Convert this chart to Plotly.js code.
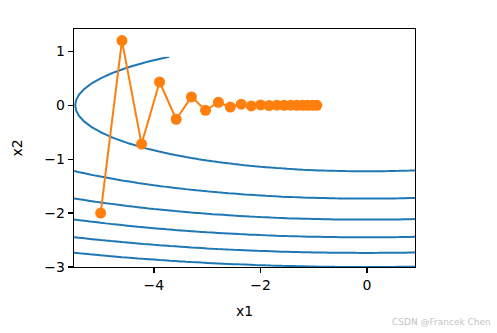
<!DOCTYPE html>
<html>
<head>
<meta charset="utf-8">
<script src="https://cdn.plot.ly/plotly-3.0.1.min.js"></script>
<style>html,body{margin:0;padding:0;background:#fff;}</style>
</head>
<body>
<div id="chart" style="width:497px;height:333px;"></div>
<script>
// Gradient descent trace (x1, x2)
const traceX1 = [-5, -4.6, -4.232, -3.8934, -3.582, -3.2954, -3.0318, -2.7892, -2.5661, -2.3608,
                 -2.1719, -1.9982, -1.8383, -1.6913, -1.556, -1.4315, -1.317, -1.2116, -1.1147, -1.0255, -0.9435];
const traceX2 = [-2, 1.2, -0.72, 0.432, -0.2592, 0.1555, -0.0933, 0.056, -0.0336, 0.0202,
                 -0.0121, 0.0073, -0.0044, 0.0026, -0.0016, 0.0009, -0.0006, 0.0003, -0.0002, 0.0001, -0.0001];
// Contour function f(x1,x2) = a*x1^2 + b*x2^2
const coefA = 0.1, coefB = 2;
const gridX1Start = -5.5, gridX1End = 0.9, gridX2Start = -3.0, gridX2End = 0.9, gridStep = 0.1;
const contourLevels = {start: 3, end: 18, size: 3};
const xTicks = [-4, -2, 0];
const yTicks = [-3, -2, -1, 0, 1];

const gx = [], gy = [];
for (let i = 0; gridX1Start + i*gridStep <= gridX1End + 1e-9; i++) gx.push(+(gridX1Start + i*gridStep).toFixed(2));
for (let j = 0; gridX2Start + j*gridStep <= gridX2End + 1e-9; j++) gy.push(+(gridX2Start + j*gridStep).toFixed(2));
const gz = gy.map(y => gx.map(x => coefA*x*x + coefB*y*y));

const font = {family: 'DejaVu Sans', size: 14, color: '#000'};
const data = [
  {type: 'contour', x: gx, y: gy, z: gz, showscale: false, hoverinfo: 'skip',
   autocontour: false, contours: {coloring: 'lines', start: contourLevels.start, end: contourLevels.end, size: contourLevels.size},
   colorscale: [[0, '#1f77b4'], [1, '#1f77b4']], line: {width: 2, smoothing: 0}},
  {type: 'scatter', mode: 'lines+markers', x: traceX1, y: traceX2,
   line: {color: '#ff7f0e', width: 2}, marker: {color: '#ff7f0e', size: 11}, hoverinfo: 'skip'}
];
const axisCommon = {showgrid: false, zeroline: false, showline: true, linecolor: '#000', linewidth: 1.2,
  mirror: true, ticks: 'outside', ticklen: 5, tickwidth: 1.2, tickcolor: '#000', tickfont: font};
const layout = {
  width: 497, height: 333, showlegend: false,
  paper_bgcolor: '#fff', plot_bgcolor: '#fff',
  margin: {l: 74, r: 82, t: 29, b: 66, pad: 0},
  font: font,
  xaxis: Object.assign({}, axisCommon, {range: [-5.5, 0.9], tickmode: 'array', tickvals: xTicks,
    title: {text: 'x1', font: font, standoff: 14}}),
  yaxis: Object.assign({}, axisCommon, {range: [-3, 1.415], tickmode: 'array', tickvals: yTicks,
    title: {text: 'x2', font: font, standoff: 18}}),
  annotations: [{text: 'CSDN @Francek Chen', xref: 'paper', yref: 'paper', x: 1.23, y: -0.23,
    xanchor: 'right', yanchor: 'middle', showarrow: false, font: {family: 'DejaVu Sans', size: 9, color: '#c4c4c4'}}]
};
Plotly.newPlot('chart', data, layout, {staticPlot: true, displayModeBar: false});
</script>
</body>
</html>
